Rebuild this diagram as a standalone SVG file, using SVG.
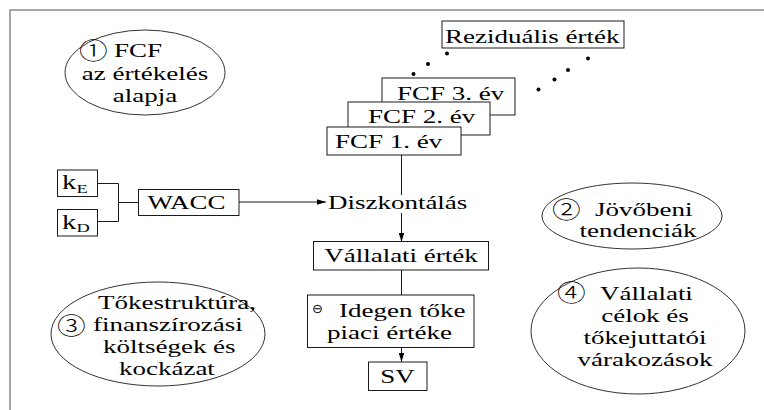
<svg xmlns="http://www.w3.org/2000/svg" width="764" height="410" viewBox="0 0 764 410">
  <style>
    .t { font-family: "Liberation Serif", "Times New Roman", serif; font-size: 19px; fill: #000; }
    .sub { font-family: "Liberation Serif", "Times New Roman", serif; font-size: 13px; fill: #000; }
    .num { font-family: "Noto Sans CJK JP", "DejaVu Sans", sans-serif; font-size: 23px; font-weight: 300; fill: #000; }
    .op { font-family: "DejaVu Sans", sans-serif; font-size: 13px; fill: #000; }
    .box { fill: #fff; stroke: #1a1a1a; stroke-width: 1; }
    .ell { fill: #fff; stroke: #333; stroke-width: 1; }
    .ln { fill: none; stroke: #1a1a1a; stroke-width: 1; }
    .dot { fill: #000; }
  </style>
  <defs>
    <marker id="ah" viewBox="0 0 10 6" refX="10" refY="3" markerWidth="9" markerHeight="6" markerUnits="userSpaceOnUse" orient="auto">
      <path d="M0,0 L10,3 L0,6 z" fill="#000"/>
    </marker>
  </defs>

  <rect x="0" y="0" width="764" height="410" fill="#fff"/>
  <rect x="10" y="10" width="780" height="430" fill="none" stroke="#8a8a8a" stroke-width="1.5"/>

  <!-- connectors -->
  <g id="connectors">
    <polyline class="ln" points="97.5,183.5 118.5,183.5 118.5,221.5 97.5,221.5"/>
    <line class="ln" x1="118.5" y1="202.5" x2="138.5" y2="202.5"/>
    <line class="ln" x1="239" y1="202" x2="326" y2="202" marker-end="url(#ah)"/>
    <line class="ln" x1="401.5" y1="155" x2="401.5" y2="195"/>
    <line class="ln" x1="401.5" y1="213" x2="401.5" y2="242" marker-end="url(#ah)"/>
    <line class="ln" x1="401.5" y1="270" x2="401.5" y2="295"/>
    <line class="ln" x1="401.5" y1="347.5" x2="401.5" y2="362" marker-end="url(#ah)"/>
  </g>

  <!-- residual value and the dotted trail -->
  <g id="rezidualis">
    <rect class="box" x="442" y="21" width="182" height="27"/>
    <text class="t" transform="translate(445 43) scale(1.42 1)">Reziduális érték</text>
  </g>
  <g id="dots">
    <circle class="dot" cx="447" cy="53.5" r="2"/>
    <circle class="dot" cx="428" cy="64" r="2"/>
    <circle class="dot" cx="413.5" cy="74" r="2"/>
    <circle class="dot" cx="588" cy="58.5" r="2"/>
    <circle class="dot" cx="568" cy="70" r="2"/>
    <circle class="dot" cx="554.5" cy="79.5" r="2"/>
    <circle class="dot" cx="538.5" cy="89.5" r="2"/>
  </g>

  <!-- yearly free cash flows, stacked -->
  <g id="fcf3">
    <rect class="box" x="382" y="78" width="133" height="37"/>
    <text class="t" transform="translate(397 100) scale(1.42 1)">FCF 3. év</text>
  </g>
  <g id="fcf2">
    <rect class="box" x="348" y="102" width="142" height="33"/>
    <text class="t" transform="translate(368 123) scale(1.42 1)">FCF 2. év</text>
  </g>
  <g id="fcf1">
    <rect class="box" x="327" y="127" width="134" height="28"/>
    <text class="t" transform="translate(335 147.5) scale(1.42 1)">FCF 1. év</text>
  </g>

  <!-- cost of capital -->
  <g id="ke">
    <rect class="box" x="57.5" y="170" width="40" height="26.5"/>
    <text class="t" transform="translate(62 189) scale(1.42 1)" style="font-size:20px">k</text>
    <text class="sub" transform="translate(76.5 192.5) scale(1.42 1)">E</text>
  </g>
  <g id="kd">
    <rect class="box" x="57.5" y="209.5" width="40" height="26.5"/>
    <text class="t" transform="translate(62 228.5) scale(1.42 1)" style="font-size:20px">k</text>
    <text class="sub" transform="translate(76.5 231.5) scale(1.42 1)">D</text>
  </g>
  <g id="wacc">
    <rect class="box" x="138.5" y="189.5" width="100.5" height="26"/>
    <text class="t" transform="translate(147.5 209) scale(1.42 1)">WACC</text>
  </g>
  <g id="diszkontalas">
    <text class="t" transform="translate(328 208.5) scale(1.42 1)">Diszkontálás</text>
  </g>

  <!-- valuation chain -->
  <g id="vallalati-ertek">
    <rect class="box" x="313.5" y="241.5" width="175" height="28.5"/>
    <text class="t" text-anchor="middle" transform="translate(401 262) scale(1.42 1)">Vállalati érték</text>
  </g>
  <g id="idegen-toke">
    <rect class="box" x="307.5" y="295" width="166.5" height="52.5"/>
    <text class="op" text-anchor="middle" x="317.5" y="313">⊖</text>
    <text class="t" transform="translate(339 317) scale(1.42 1)">Idegen tőke</text>
    <text class="t" transform="translate(327 338.5) scale(1.42 1)">piaci értéke</text>
  </g>
  <g id="sv">
    <rect class="box" x="368.5" y="362" width="58.5" height="28.5"/>
    <text class="t" text-anchor="middle" transform="translate(397.5 383) scale(1.42 1)">SV</text>
  </g>

  <!-- influencing factors -->
  <g id="factor1">
    <ellipse class="ell" cx="145" cy="72.5" rx="80" ry="42.5"/>
    <text class="num" transform="translate(79 59) scale(1.25 1)">①</text>
    <text class="t" transform="translate(114 57) scale(1.42 1)">FCF</text>
    <text class="t" text-anchor="middle" transform="translate(145 80) scale(1.42 1)">az értékelés</text>
    <text class="t" text-anchor="middle" transform="translate(145 102) scale(1.42 1)">alapja</text>
  </g>
  <g id="factor2">
    <ellipse class="ell" cx="632" cy="216" rx="90" ry="33"/>
    <text class="num" transform="translate(552 217.5) scale(1.25 1)">②</text>
    <text class="t" transform="translate(595 215.5) scale(1.42 1)">Jövőbeni</text>
    <text class="t" text-anchor="middle" transform="translate(638 237) scale(1.42 1)">tendenciák</text>
  </g>
  <g id="factor3">
    <ellipse class="ell" cx="158" cy="334" rx="107" ry="52"/>
    <text class="t" transform="translate(98 309) scale(1.42 1)">Tőkestruktúra,</text>
    <text class="num" transform="translate(57 334) scale(1.25 1)">③</text>
    <text class="t" transform="translate(93 331) scale(1.42 1)">finanszírozási</text>
    <text class="t" transform="translate(103 353) scale(1.42 1)">költségek és</text>
    <text class="t" transform="translate(119 375) scale(1.42 1)">kockázat</text>
  </g>
  <g id="factor4">
    <ellipse class="ell" cx="638" cy="331" rx="107" ry="63"/>
    <text class="num" transform="translate(557 300.5) scale(1.25 1)">④</text>
    <text class="t" transform="translate(600 299.5) scale(1.42 1)">Vállalati</text>
    <text class="t" text-anchor="middle" transform="translate(645 321.5) scale(1.42 1)">célok és</text>
    <text class="t" text-anchor="middle" transform="translate(645 343.5) scale(1.42 1)">tőkejuttatói</text>
    <text class="t" text-anchor="middle" transform="translate(645 366) scale(1.42 1)">várakozások</text>
  </g>
</svg>
